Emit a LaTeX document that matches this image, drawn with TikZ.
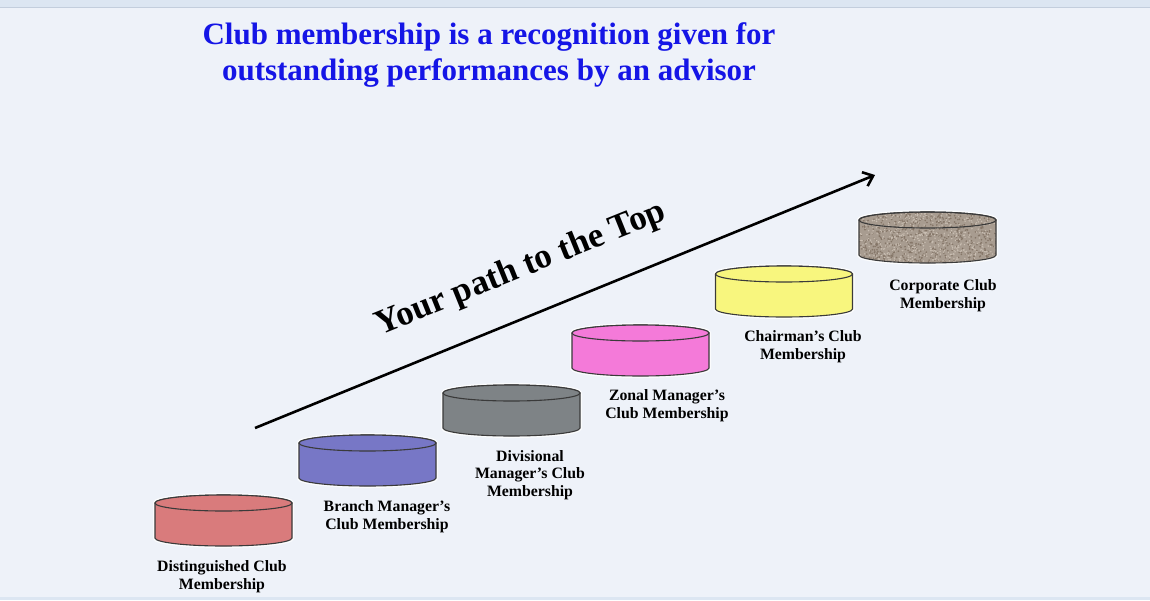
\documentclass[tikz,border=0pt]{standalone}
\usepackage{fontspec}
\setmainfont{Liberation Serif}
\usetikzlibrary{arrows.meta,calc}
\definecolor{bgc}{HTML}{EEF2F9}
\definecolor{bandc}{HTML}{DCE6F2}
\definecolor{bandline}{HTML}{C3CEDD}
\definecolor{titlec}{HTML}{1515E6}
\definecolor{cred}{HTML}{D97B7C}
\definecolor{cblue}{HTML}{7777C6}
\definecolor{cgray}{HTML}{7E8386}
\definecolor{cpink}{HTML}{F47AD9}
\definecolor{cyellow}{HTML}{F8F67E}
\definecolor{cbrown}{HTML}{A89C90}
\definecolor{cbrdark}{HTML}{857668}
\definecolor{cbrlight}{HTML}{C9BEB2}
\definecolor{outl}{HTML}{3A3A3A}
\newcommand\cylpath[1]{($(#1)+(-68.5,0)$) -- ++(0,35) arc[start angle=180,end angle=0,x radius=68.5,y radius=8] -- ++(0,-35) arc[start angle=0,end angle=-180,x radius=68.5,y radius=8] -- cycle}
\newcommand\drawcyl[4]{%
  \coordinate (#1) at (#2,#3);
  \draw[halo] \cylpath{#1};
  \filldraw[cylline,fill=#4] \cylpath{#1};
  \filldraw[cylline,fill=#4] (#1) ellipse[x radius=68.5,y radius=8];
}
\begin{document}
\begin{tikzpicture}[x=1pt,y=-1pt,
  cylline/.style={draw=outl,line width=1.1pt},
  halo/.style={draw=white,line width=4pt,opacity=0.8},
  lbl/.style={align=center,font=\bfseries\fontsize{15.8}{17.8}\selectfont,text=black,inner sep=0pt},
  titlefont/.style={align=center,font=\bfseries\fontsize{31}{35.5}\selectfont,text=titlec,inner sep=0pt},
  patharrow/.style={line width=2.6pt,-{Straight Barb[length=9pt,width=15pt,line width=2.6pt]}}]
\useasboundingbox (0,0) rectangle (1150,600);
\fill[bgc] (0,0) rectangle (1150,600);
\fill[bandc] (0,0) rectangle (1150,7);
\draw[bandline,line width=1.5pt] (0,7.5) -- (1150,7.5);
\fill[bandc] (0,597) rectangle (1150,600);

% title
\node[titlefont] (title) at (489,55) {Club membership is a recognition given for\\outstanding performances by an advisor};

% cylinders
\drawcyl{c1}{223.5}{503}{cred}
\drawcyl{c2}{367.5}{443}{cblue}
\drawcyl{c3}{511.5}{393}{cgray}
\drawcyl{c4}{640.5}{333}{cpink}
\drawcyl{c5}{784}{274}{cyellow}
% textured corporate cylinder
\coordinate (c6) at (927.5,220);
\draw[halo] \cylpath{c6};
\begin{scope}
  \clip \cylpath{c6};
  \fill[cbrown] ($(c6)+(-70,-10)$) rectangle ($(c6)+(70,45)$);
  \pgfmathsetseed{7}
  \foreach \i in {1,...,700}{
    \pgfmathsetmacro\px{rnd*140-70}
    \pgfmathsetmacro\py{rnd*55-10}
    \fill[cbrdark] ($(c6)+(\px,\py)$) circle[radius=0.9];
  }
  \foreach \i in {1,...,600}{
    \pgfmathsetmacro\px{rnd*140-70}
    \pgfmathsetmacro\py{rnd*55-10}
    \fill[cbrlight] ($(c6)+(\px,\py)$) circle[radius=0.8];
  }
\end{scope}
\draw[cylline] \cylpath{c6};
\draw[cylline] (c6) ellipse[x radius=68.5,y radius=8];

% labels
\node[lbl] (l1) at (222,577) {Distinguished Club\\Membership};
\node[lbl] (l2) at (387,517) {Branch Manager's\\Club Membership};
\node[lbl] (l3) at (530,475) {Divisional\\Manager's Club\\Membership};
\node[lbl] (l4) at (667,406) {Zonal Manager's\\Club Membership};
\node[lbl] (l5) at (803,347) {Chairman's Club\\Membership};
\node[lbl] (l6) at (943,296) {Corporate Club\\Membership};

% arrow
\coordinate (a0) at (255,428);
\coordinate (a1) at (875,175);
\draw[patharrow] (a0) -- (a1);
\node[anchor=base,rotate=22,font=\bfseries\fontsize{35}{35}\selectfont,inner sep=0pt] (ptext) at (524,277) {Your path to the Top};
\end{tikzpicture}
\end{document}
